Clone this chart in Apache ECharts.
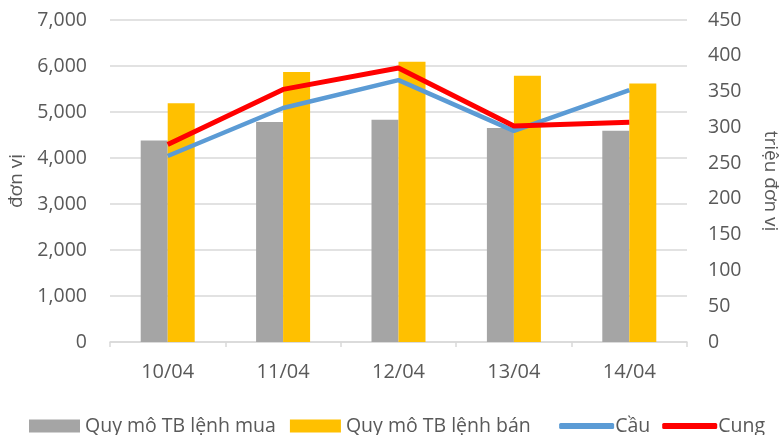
<!DOCTYPE html>
<html><head><meta charset="utf-8">
<script src="https://cdn.jsdelivr.net/npm/echarts@6/dist/echarts.min.js"></script>
<style>html,body{margin:0;padding:0;background:#fff}#c{width:779px;height:435px}</style>
</head><body><div id="c"></div>
<script>
const categories = ['10/04','11/04','12/04','13/04','14/04'];
const buySize = [4380, 4780, 4830, 4650, 4590];
const sellSize = [5190, 5870, 6090, 5790, 5620];
const demand = [260, 327, 366, 295, 352];
const supply = [276, 353, 383, 302, 307];
const leftTicks = {min:0, max:7000, interval:1000};
const rightTicks = {min:0, max:450, interval:50};

const FONT = 'Open Sans';
const TXT = '#595959';
const chart = echarts.init(document.getElementById('c'));
chart.setOption({
  animation:false,
  textStyle:{fontFamily:FONT},
  grid:{left:110, right:92, top:20, bottom:93, containLabel:false, outerBoundsMode:'none'},
  legend:[{
    data:['Quy mô TB lệnh mua','Quy mô TB lệnh bán'],
    left:24, top:411, itemWidth:51, itemHeight:13, itemGap:14, icon:'rect',
    textStyle:{color:TXT, fontSize:19.5, fontFamily:FONT, padding:[0,0,0,0]}
  },{
    data:['Cầu','Cung'],
    right:9, top:411, itemWidth:55, itemHeight:6, itemGap:12, icon:'roundRect',
    textStyle:{color:TXT, fontSize:19.5, fontFamily:FONT, padding:[0,0,0,-4]}
  }],
  xAxis:{
    type:'category', data:categories,
    axisLine:{lineStyle:{color:'#d9d9d9', width:1.5}},
    axisTick:{show:true, length:5, lineStyle:{color:'#d9d9d9', width:1.5}},
    axisLabel:{color:TXT, fontSize:20, margin:20}
  },
  yAxis:[{
    type:'value', min:leftTicks.min, max:leftTicks.max, interval:leftTicks.interval,
    name:'đơn vị', nameLocation:'middle', nameGap:83, nameRotate:90,
    nameTextStyle:{color:TXT, fontSize:19},
    axisLabel:{color:TXT, fontSize:19.5, margin:23, formatter:v=>v.toLocaleString('en-US')},
    splitLine:{lineStyle:{color:'#d9d9d9', width:1.5}},
    axisLine:{show:false}, axisTick:{show:false}
  },{
    type:'value', min:rightTicks.min, max:rightTicks.max, interval:rightTicks.interval,
    name:'triệu đơn vị', nameLocation:'middle', nameGap:74, nameRotate:-90,
    nameTextStyle:{color:TXT, fontSize:19},
    axisLabel:{color:TXT, fontSize:19.5, margin:21},
    splitLine:{show:false}, axisLine:{show:false}, axisTick:{show:false}
  }],
  series:[
    {name:'Quy mô TB lệnh mua', type:'bar', data:buySize, barWidth:27, barGap:'0%', itemStyle:{color:'#a5a5a5'}},
    {name:'Quy mô TB lệnh bán', type:'bar', data:sellSize, barWidth:27, barGap:'0%', itemStyle:{color:'#ffc000'}},
    {name:'Cầu', type:'line', yAxisIndex:1, data:demand, showSymbol:false, symbol:'none', lineStyle:{color:'#5b9bd5', width:4.5}, itemStyle:{color:'#5b9bd5'}},
    {name:'Cung', type:'line', yAxisIndex:1, data:supply, showSymbol:false, symbol:'none', lineStyle:{color:'#ff0000', width:5}, itemStyle:{color:'#ff0000'}}
  ]
});
</script></body></html>
